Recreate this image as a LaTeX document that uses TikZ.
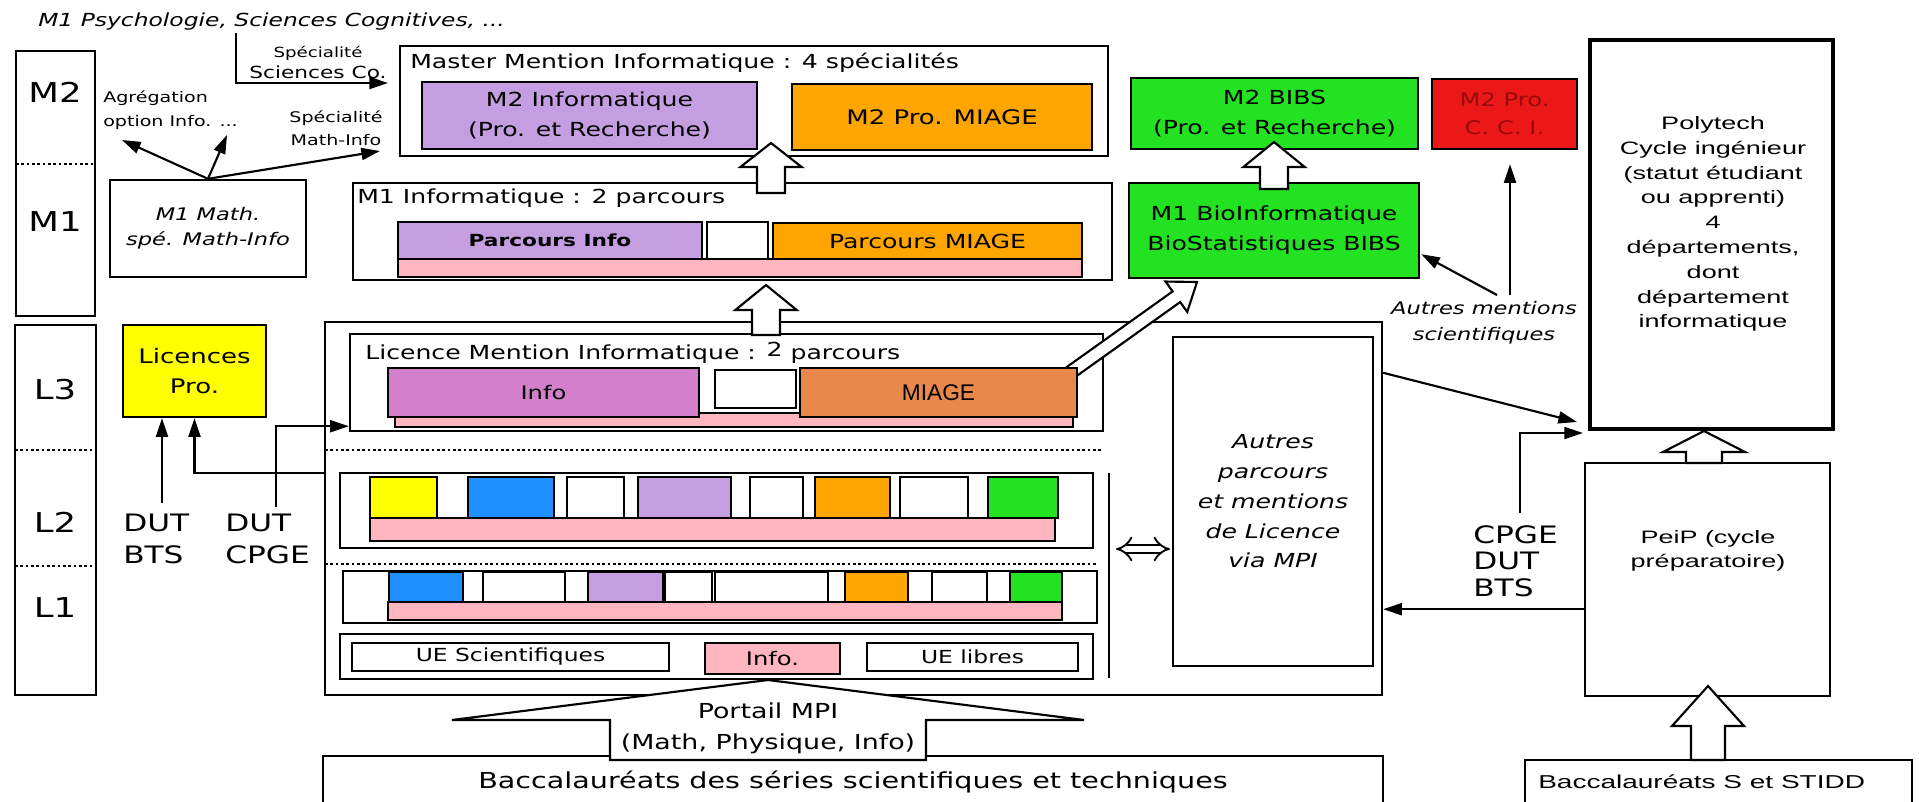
\documentclass[tikz,border=0pt]{standalone}
\usepackage{fontspec}
\setmainfont{DejaVu Sans}[FakeStretch=1.3,ItalicFont={DejaVu Sans Oblique},BoldFont={DejaVu Sans Bold}]
\newfontfamily\polyfont{Liberation Sans}[FakeStretch=1.5]
\newfontfamily\plainfont{Liberation Sans}
\usetikzlibrary{arrows.meta,calc,fit}

\definecolor{lav}{RGB}{196,158,224}
\definecolor{orng}{RGB}{255,165,0}
\definecolor{grn}{RGB}{34,226,34}
\definecolor{rd}{RGB}{236,24,24}
\definecolor{rdtxt}{RGB}{150,10,10}
\definecolor{ylw}{RGB}{255,255,0}
\definecolor{blu}{RGB}{30,144,255}
\definecolor{pnk}{RGB}{255,182,193}
\definecolor{orch}{RGB}{210,128,204}
\definecolor{coral}{RGB}{232,136,76}

\newcommand{\fnt}[2]{\fontsize{#1}{#2}\selectfont}
% start, tip, shaft half width, head half width, head length
\newcommand{\blockarrow}[5]{%
  \coordinate (bh) at ($(#2)!#5!(#1)$);
  \draw[blk] ($(#1)!#3!90:(#2)$) -- ($(bh)!#3!90:(#2)$) -- ($(bh)!#4!90:(#2)$) -- (#2)
    -- ($(bh)!#4!-90:(#2)$) -- ($(bh)!#3!-90:(#2)$) -- ($(#1)!#3!-90:(#2)$) -- cycle;
}

\begin{document}
\begin{tikzpicture}[x=0.75pt,y=0.75pt,yscale=-1,xscale=1,
    cell/.style={draw, line width=1.8pt, fill=white, inner sep=0pt, align=center},
    wh/.style 2 args={minimum width=#1*0.75pt, minimum height=#2*0.75pt},
    bar/.style={draw, line width=1.8pt, fill=pnk, inner sep=0pt},
    arr/.style={line width=1.6pt, -{Triangle[length=14pt,width=9pt]}},
    blk/.style={draw, line width=1.6pt, fill=white, line join=miter},
    lvl/.style={dash pattern=on 2pt off 2pt, line width=1.6pt},
    txt/.style={inner sep=0pt, align=center}]
        \fill[white] (0,0) rectangle (1919,801);
        \useasboundingbox (0,0) rectangle (1919,801);

        % Level columns
        \node[cell, fit={(16,51) (95,316)}] (colM) {};
        \node[cell, fit={(15,325) (96,695)}] (colL) {};
        \draw[lvl] (16,164) -- (95,164);
        \draw[lvl] (15,450) -- (96,450);
        \draw[lvl] (15,566) -- (96,566);
        % Text Node
        \node[txt, font=\fnt{20.5pt}{24pt}] (lbMb) at (55,92) {M2};
        \node[txt, font=\fnt{20.5pt}{24pt}] (lbMa) at (55,222) {M1};
        \node[txt, font=\fnt{20.5pt}{24pt}] (lbLc) at (55,390) {L3};
        \node[txt, font=\fnt{20.5pt}{24pt}] (lbLb) at (55,522) {L2};
        \node[txt, font=\fnt{20.5pt}{24pt}] (lbLa) at (55,608) {L1};

        % Other masters
        \node[txt, anchor=west, font=\itshape\fnt{13.5pt}{16pt}] (psy) at (38,22) {M1 Psychologie, Sciences Cognitives, ...};
        \coordinate (sca) at (236,33);
        \coordinate (scb) at (388,83);
        \draw[arr] (sca) |- (scb);
        \node[txt, font=\fnt{10.5pt}{12pt}] (spA) at (318,53) {Spécialité};
        \node[txt, font=\fnt{12.5pt}{14pt}] (spB) at (318,72) {Sciences Co.};

        \node[cell, wh={196}{97}, font=\itshape\fnt{13pt}{19pt}] (mmath) at (208,228.5) {M1 Math.\\spé. Math-Info};
        \coordinate (agA) at (122,140);
        \coordinate (agB) at (227,135);
        \coordinate (mathinfo) at (380,151);
        \draw[arr] (mmath.north) -- (agA);
        \draw[arr] (mmath.north) -- (agB);
        \draw[arr] (mmath.north) -- (mathinfo);
        \node[txt, anchor=west, align=left, font=\fnt{11pt}{18pt}] (agreg) at (103,110) {Agrégation\\option Info. ...};
        \node[txt, font=\fnt{11pt}{17pt}] (spmi) at (336,128) {Spécialité\\Math-Info};

        % Master block
        \node[cell, fit={(400,46) (1108,156)}] (master) {};
        \node[txt, anchor=west, font=\fnt{14.5pt}{16pt}] (mastert) at (410,63) {Master Mention Informatique : 4 spécialités};
        \node[cell, fill=lav, wh={335}{67}, font=\fnt{14.5pt}{22.5pt}] (m2info) at (589.5,115.5) {M2 Informatique\\(Pro. et Recherche)};
        \node[cell, fill=orng, wh={300}{66}, font=\fnt{15pt}{18pt}] (m2miage) at (942,117) {M2 Pro. MIAGE};

        % M1 block
        \node[cell, fit={(353,183) (1112,280)}] (m1) {};
        \node[txt, anchor=west, font=\fnt{14.5pt}{16pt}] (m1t) at (357,198) {M1 Informatique : 2 parcours};
        \node[bar, fit={(398,259) (1082,277)}] (m1bar) {};
        \node[cell, fill=lav, wh={304}{37}, font=\bfseries\fnt{12.5pt}{14pt}] (pinfo) at (550,240.5) {Parcours Info};
        \node[cell, fit={(707,222) (768,259)}] (pgap) {};
        \node[cell, fill=orng, wh={309}{36}, font=\fnt{14.5pt}{16pt}] (pmiage) at (927.5,241) {Parcours MIAGE};
        \coordinate (aab) at (771,193);
        \coordinate (aat) at (771,143);
        \blockarrow{aab}{aat}{10.5pt}{23pt}{18pt}

        % BIBS and CCI
        \node[cell, fill=grn, wh={287}{71}, font=\fnt{14.5pt}{22.5pt}] (m2bibs) at (1274.5,113.5) {M2 BIBS\\(Pro. et Recherche)};
        \node[cell, fill=rd, text=rdtxt, wh={145}{70}, font=\fnt{14pt}{21pt}] (m2cci) at (1504.5,114) {M2 Pro.\\C. C. I.};
        \node[cell, fill=grn, wh={290}{95}, font=\fnt{14.5pt}{22.5pt}] (m1bio) at (1274,230.5) {M1 BioInformatique\\BioStatistiques BIBS};
        \coordinate (acb) at (1274,189);
        \coordinate (act) at (1274,142);
        \blockarrow{acb}{act}{10.5pt}{23pt}{18.75pt}

        % Polytech
        \node[cell, line width=3.5pt, fit={(1590,40) (1833,429)}] (poly) {};
        \node[txt, font=\polyfont\fnt{13.5pt}{18.6pt}] (polyt) at (1713,224) {Polytech\\Cycle ingénieur\\(statut étudiant\\ou apprenti)\\4\\départements,\\dont\\département\\informatique};

        \node[txt, font=\itshape\fnt{13pt}{19.5pt}] (autm) at (1484,323) {Autres mentions\\scientifiques};
        \coordinate (ama) at (1497,295);
        \coordinate (bioin) at ($(m1bio.south east)+(1,-25)$);
        \draw[arr] (ama) -- (bioin);
        \coordinate (amb) at (1510,295);
        \draw[arr, shorten >=10.5pt] (amb) -- (amb |- m2cci.south);

        % Licences Pro
        \node[cell, fill=ylw, wh={143}{92}, font=\fnt{15pt}{22.5pt}] (lpro) at (194.5,371) {Licences\\Pro.};
        \node[txt, anchor=west, align=left, font=\fnt{18pt}{24pt}] (dutbts) at (123,539) {DUT\\BTS};
        \node[txt, anchor=west, align=left, font=\fnt{18pt}{24pt}] (dutcpge) at (225,539) {DUT\\CPGE};

        % Licence block
        \node[cell, fit={(325,322) (1382,695)}] (licout) {};
        \node[cell, fit={(350,334) (1103,431)}] (licm) {};
        \node[txt, anchor=west, font=\fnt{14.5pt}{16pt}] (licmt) at (365,353) {Licence Mention Informatique : \raisebox{2pt}{2} parcours};
        \node[bar, fit={(395,413) (1073,427)}] (lcbar) {};
        \coordinate (dba) at (1071,372);
        \coordinate (dbb) at (1197,282);
        \blockarrow{dba}{dbb}{4.9pt}{14pt}{19pt}
        \node[cell, fill=orch, wh={311}{49}, font=\fnt{14pt}{16pt}] (lcinfo) at (543.5,392.5) {Info};
        \node[cell, fit={(715,370) (796,408)}] (lcgap) {};
        \node[cell, fill=coral, wh={277}{49}, font=\plainfont\fnt{17pt}{18pt}] (lcmiage) at (938.5,392.5) {MIAGE};
        \draw[lvl] (325,450) -- (1103,450);
        \draw[lvl] (325,564) -- (1097,564);

        % L2 row
        \node[cell, fit={(340,473) (1093,548)}] (lbrow) {};
        \node[bar, fit={(370,518) (1055,541)}] (lbbar) {};
        \node[cell, fill=ylw, fit={(370,477) (437,518)}] (lba) {};
        \node[cell, fill=blu, fit={(468,477) (554,518)}] (lbb) {};
        \node[cell, fit={(567,477) (624,518)}] (lbc) {};
        \node[cell, fill=lav, fit={(638,477) (731,518)}] (lbd) {};
        \node[cell, fit={(750,477) (803,518)}] (lbe) {};
        \node[cell, fill=orng, fit={(815,477) (890,518)}] (lbf) {};
        \node[cell, fit={(900,477) (968,518)}] (lbg) {};
        \node[cell, fill=grn, fit={(988,477) (1058,518)}] (lbh) {};

        % L1 row
        \node[cell, fit={(343,571) (1097,623)}] (larow) {};
        \node[bar, fit={(388,602) (1062,620)}] (labar) {};
        \node[cell, fill=blu, fit={(389,572) (463,602)}] (laa) {};
        \node[cell, fit={(483,572) (565,602)}] (lab) {};
        \node[cell, fill=lav, fit={(588,572) (663,602)}] (lac) {};
        \node[cell, fit={(665,572) (712,602)}] (lad) {};
        \node[cell, fit={(715,572) (828,602)}] (lae) {};
        \node[cell, fill=orng, fit={(845,572) (908,602)}] (laf) {};
        \node[cell, fit={(932,572) (987,602)}] (lag) {};
        \node[cell, fill=grn, fit={(1010,572) (1062,602)}] (lah) {};

        % UE row
        \node[cell, fit={(340,634) (1093,679)}] (uerow) {};
        \node[cell, wh={317}{28}, font=\fnt{13.5pt}{16pt}] (uesci) at (510.5,657) {UE Scientifiques};
        \node[cell, fill=pnk, wh={135}{31}, font=\fnt{14pt}{16pt}] (ueinfo) at (772.5,658.5) {Info.};
        \node[cell, wh={211}{28}, font=\fnt{13.5pt}{16pt}] (uelib) at (972.5,657) {UE libres};
        \draw[line width=1.6pt] (1109,473) -- (1109,678);

        % Autres parcours
        \node[cell, wh={200}{329}, font=\itshape\fnt{14.5pt}{22.3pt}] (autres) at (1273,501.5) {Autres\\parcours\\et mentions\\de Licence\\via MPI};
        \coordinate (eqa) at (1116,549);
        \coordinate (eqb) at (1170,549);
        \draw[line width=1.4pt, double distance=5pt, {Implies}-{Implies}] (eqa) -- (eqb);

        \coordinate (abb) at (766,335);
        \coordinate (abt) at (766,285);
        \blockarrow{abb}{abt}{10.5pt}{23pt}{18.75pt}

        % Entries
        \coordinate (dbt) at (162,503);
        \draw[arr] (dbt) -- (dbt |- lpro.south);
        \coordinate (dlic) at (325,473);
        \draw[arr] (dlic) -| (lpro.south);
        \coordinate (dcp) at (276,507);
        \coordinate (dcin) at ($(licm.south west)+(0,-6)$);
        \draw[arr] (dcp) |- (dcin);
        \coordinate (apa) at ($(licout.north east)+(0,52)$);
        \coordinate (apb) at (1577,422);
        \draw[arr] (apa) -- (apb);

        % Baccalaureats
        \node[cell, wh={1060}{52}, font=\fnt{16.5pt}{18pt}] (bac) at (853,782) {Baccalauréats des séries scientifiques et techniques};
        \coordinate (pma) at (768,760);
        \coordinate (pmb) at (768,680);
        \blockarrow{pma}{pmb}{118.5pt}{237pt}{30pt}
        \node[txt, font=\fnt{15.5pt}{23pt}] (portail) at (768,728) {Portail MPI\\(Math, Physique, Info)};

        % PeiP
        \node[cell, fit={(1585,463) (1830,696)}] (peip) {};
        \node[txt, font=\polyfont\fnt{13.5pt}{18pt}] (peipt) at (1708,551) {PeiP (cycle\\préparatoire)};
        \coordinate (adb) at (1704,463);
        \coordinate (adt) at (1704,431);
        \blockarrow{adb}{adt}{13.5pt}{30.75pt}{15.75pt}
        \node[cell, fit={(1525,760) (1912,808)}] (bacs) {};
        \node[txt, anchor=west, font=\polyfont\fnt{14pt}{16pt}] (bacst) at (1538,782) {Baccalauréats S et STIDD};
        \coordinate (aeb) at (1708,760);
        \coordinate (aet) at (1708,686);
        \blockarrow{aeb}{aet}{12.75pt}{27pt}{30pt}

        \node[txt, anchor=west, align=left, font=\fnt{18pt}{20pt}] (cdb) at (1473,561) {CPGE\\DUT\\BTS};
        \coordinate (pla) at ($(peip.south west)+(0,-88)$);
        \draw[arr] (pla) -- (pla -| licout.east);
        \coordinate (cpa) at (1520,513);
        \coordinate (cpb) at (1583,433);
        \draw[arr] (cpa) |- (cpb);
    \end{tikzpicture}
\end{document}
